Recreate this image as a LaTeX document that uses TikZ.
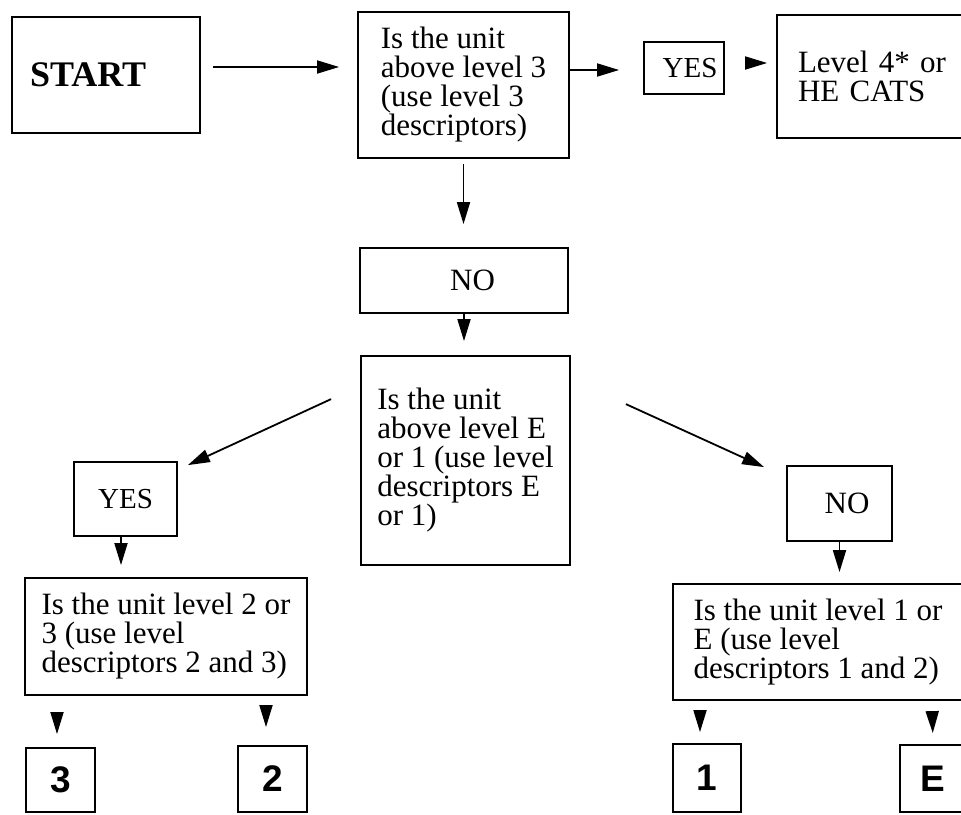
\documentclass[tikz,border=0pt]{standalone}
\usepackage{fontspec}
\setmainfont{Liberation Serif}
\newfontfamily\digitfont{Liberation Sans}
\usetikzlibrary{arrows.meta}

\begin{document}
\begin{tikzpicture}
[x=1pt, y=-1pt, line width=1.8pt,
font=\fontsize{31pt}{29pt}\selectfont,
box/.style={rectangle, draw, inner sep=0pt, align=left},
digit/.style={rectangle, draw, inner sep=0pt, font=\digitfont\bfseries\fontsize{37pt}{37pt}\selectfont},
arr/.style={-{Triangle[length=22pt, width=13pt]}}]

\useasboundingbox (0,0) rectangle (961,814);

% top row
\node[box, minimum width=188pt, minimum height=116pt, text width=152pt, font=\bfseries\fontsize{36pt}{36pt}\selectfont] (start) at (106,75) {START};
\node[box, minimum width=211pt, minimum height=146pt] (q1) at (463.5,85) {Is the unit\\above level 3\\(use level 3\\descriptors)};
\node[box, minimum width=80pt, minimum height=52pt, text width=67pt, font=\fontsize{29pt}{29pt}\selectfont] (yes1) at (684,68) {\hfill YES};
\node[box, minimum width=213pt, minimum height=123pt, text width=171pt] (l4) at (883.5,76.5) {Level 4* or\\HE CATS};

% middle
\node[box, minimum width=208pt, minimum height=65pt, text width=62pt] (no1) at (464,280.5) {\hfill NO};
\node[box, minimum width=209pt, minimum height=209pt] (q2) at (465.5,460.5) {Is the unit\\above level E\\or 1 (use level\\descriptors E\\or 1)};
\node[box, minimum width=103pt, minimum height=74pt, font=\fontsize{29pt}{29pt}\selectfont] (yes2) at (125.5,499) {YES};
\node[box, minimum width=105pt, minimum height=75pt, text width=60pt] (no2) at (839.5,503.5) {\hfill NO};

% lower questions
\node[box, minimum width=282pt, minimum height=117pt] (q3) at (166,636.5) {Is the unit level 2 or\\3 (use level\\descriptors 2 and 3)};
\node[box, minimum width=290pt, minimum height=116pt] (q4) at (818,642) {Is the unit level 1 or\\E (use level\\descriptors 1 and 2)};

% levels
\node[digit, minimum width=69pt, minimum height=64pt] (b3) at (60.5,780) {3};
\node[digit, minimum width=69pt, minimum height=66pt] (b2) at (272.5,779) {2};
\node[digit, minimum width=68pt, minimum height=68pt] (b1) at (707,778) {1};
\node[digit, minimum width=66pt, minimum height=67pt] (bE) at (933,778.5) {E};

\draw[arr, shorten <=12pt, shorten >=18pt] ([yshift=8pt]start.east) -- ([yshift=18pt]q1.west);
\draw[arr, shorten >=24pt] ([yshift=15pt]q1.east) -- ([yshift=-2pt]yes1.west);
\draw[arr, shorten <=20pt, shorten >=9pt] ([yshift=5pt]yes1.east) -- ([yshift=13.5pt]l4.west);
\draw[arr, shorten <=5pt, shorten >=23pt] (q1.south) -- (q1.south |- no1.north);
\draw[arr, shorten >=14pt] (no1.south) -- (no1.south |- q2.north);

\draw[arr] ([shift={(-29,44)}]q2.north west) -- ([shift={(10,4)}]yes2.north east);
\draw[arr] ([shift={(55,49)}]q2.north east) -- ([shift={(-22,2)}]no2.north west);

\draw[arr, shorten >=12pt] ([xshift=-4.5pt]yes2.south) -- ([xshift=-45pt]q3.north);
\draw[arr, shorten >=11pt] (no2.south) -- (no2.south |- q4.north);

\draw[arr, shorten <=18pt, shorten >=13pt] ([xshift=-109pt]q3.south) -- ([xshift=-3.5pt]b3.north);
\draw[arr, shorten <=10pt, shorten >=18pt] ([xshift=100pt]q3.south) -- ([xshift=-6.5pt]b2.north);
\draw[arr, shorten <=11pt, shorten >=11pt] ([xshift=-118pt]q4.south) -- ([xshift=-7pt]b1.north);
\draw[arr, shorten <=12pt, shorten >=11pt] ([xshift=114pt]q4.south) -- (bE.north);
\end{tikzpicture}
\end{document}
